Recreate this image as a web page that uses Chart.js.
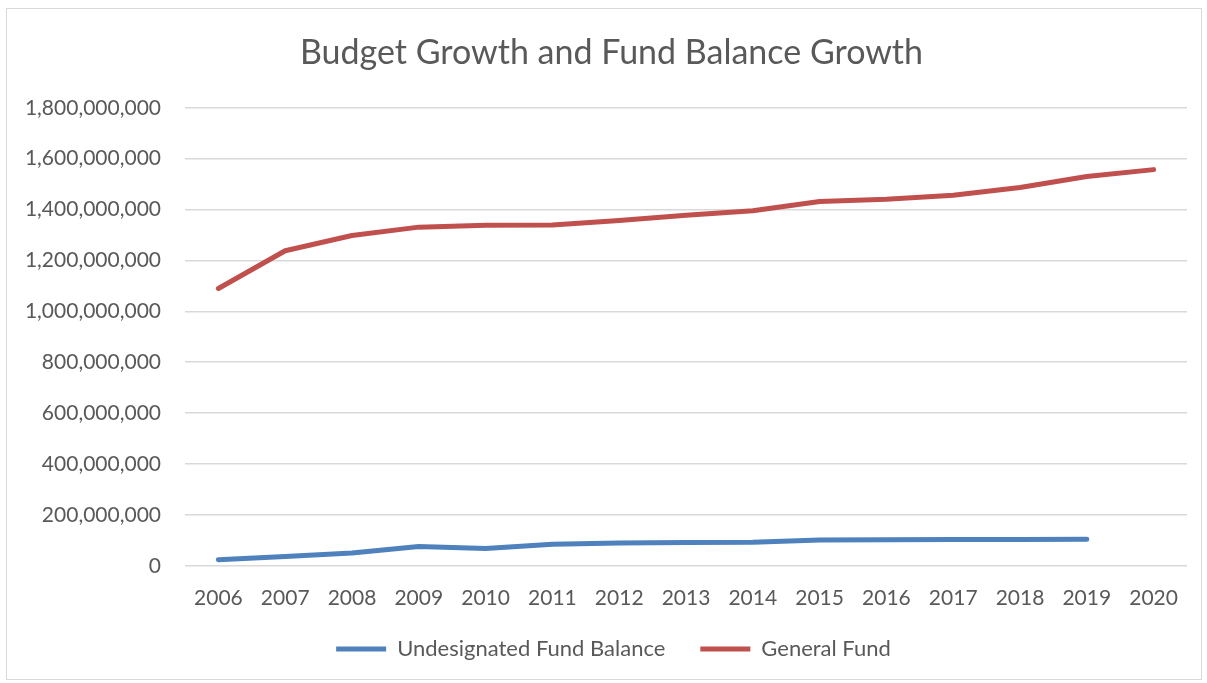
<!DOCTYPE html>
<html>
<head>
<meta charset="utf-8">
<script src="https://cdn.jsdelivr.net/npm/chart.js@4.4.1/dist/chart.umd.min.js"></script>
<style>
  html, body { margin: 0; padding: 0; background: #fff; }
  #frame {
    position: absolute; left: 6px; top: 8px; width: 1196px; height: 672px;
    border: 1px solid #d9d9d9; box-sizing: border-box;
  }
  #wrap { position: absolute; left: 0; top: 0; width: 1207px; height: 683px; }
</style>
</head>
<body>
<div id="frame"></div>
<div id="wrap"><canvas id="myChart"></canvas></div>
<script>
// Years on the category axis
const years = ['2006', '2007', '2008', '2009', '2010', '2011', '2012', '2013',
  '2014', '2015', '2016', '2017', '2018', '2019', '2020']

// Undesignated fund balance (no 2020 value)
const undesignatedFundBalance = [24000000, 37000000, 50000000, 76000000, 68000000,
  85000000, 90000000, 92000000, 93000000, 101000000, 102000000, 103000000,
  103000000, 104000000, null]

// General fund budget
const generalFund = [1090000000, 1238000000, 1298000000, 1331000000, 1338000000,
  1339000000, 1357000000, 1378000000, 1395000000, 1432000000, 1441000000,
  1456000000, 1487000000, 1530000000, 1557000000]

const textColor = '#595959'
const fontFamily = 'Lato, "Open Sans", sans-serif'

// Nudge title and legend boxes a bit so they sit where the original has them
const nudgeBoxes = {
  id: 'nudgeBoxes',
  afterLayout (chart) {
    const title = chart.titleBlock
    title.left = 36
    title.width = title.right - title.left
    const legend = chart.legend
    legend.left += 40
    legend.width = legend.right - legend.left
    legend.top = 603
    legend.bottom = chart.height
    legend.height = legend.bottom - legend.top
  }
}

const ctx = document.getElementById('myChart').getContext('2d')

new Chart(ctx, {
  type: 'line',
  data: {
    labels: years,
    datasets: [{
      label: 'Undesignated Fund Balance',
      data: undesignatedFundBalance,
      borderColor: '#4f81bd',
      backgroundColor: '#4f81bd',
      borderWidth: 5,
      borderCapStyle: 'round',
      borderJoinStyle: 'round',
      pointRadius: 0,
      tension: 0
    },
    {
      label: 'General Fund',
      data: generalFund,
      borderColor: '#c0504d',
      backgroundColor: '#c0504d',
      borderWidth: 5,
      borderCapStyle: 'round',
      borderJoinStyle: 'round',
      pointRadius: 0,
      tension: 0
    }]
  },
  options: {
    responsive: true,
    maintainAspectRatio: false,
    animation: false,
    layout: {
      padding: { top: 0, right: 20, bottom: 8, left: 0 }
    },
    scales: {
      y: {
        min: 0,
        max: 1800000000,
        afterFit: function (scale) { scale.width = 185 },
        ticks: {
          stepSize: 200000000,
          padding: 24,
          color: textColor,
          font: { family: fontFamily, size: 21 },
          callback: value => value.toLocaleString('en-US')
        },
        grid: { color: '#d9d9d9', lineWidth: 1.5, drawTicks: false },
        border: { display: false }
      },
      x: {
        offset: true,
        ticks: {
          padding: 20,
          color: textColor,
          font: { family: fontFamily, size: 21 }
        },
        grid: { display: false, drawTicks: false },
        border: { display: false }
      }
    },
    plugins: {
      title: {
        display: true,
        text: 'Budget Growth and Fund Balance Growth',
        color: textColor,
        font: { family: fontFamily, size: 34, weight: 'normal' },
        padding: { top: 33, bottom: 34 }
      },
      legend: {
        position: 'bottom',
        maxHeight: 44,
        labels: {
          usePointStyle: true,
          pointStyle: 'line',
          pointStyleWidth: 50,
          padding: 35,
          color: textColor,
          font: { family: fontFamily, size: 22 }
        }
      },
      tooltip: { enabled: false }
    }
  },
  plugins: [nudgeBoxes]
})
</script>
</body>
</html>
